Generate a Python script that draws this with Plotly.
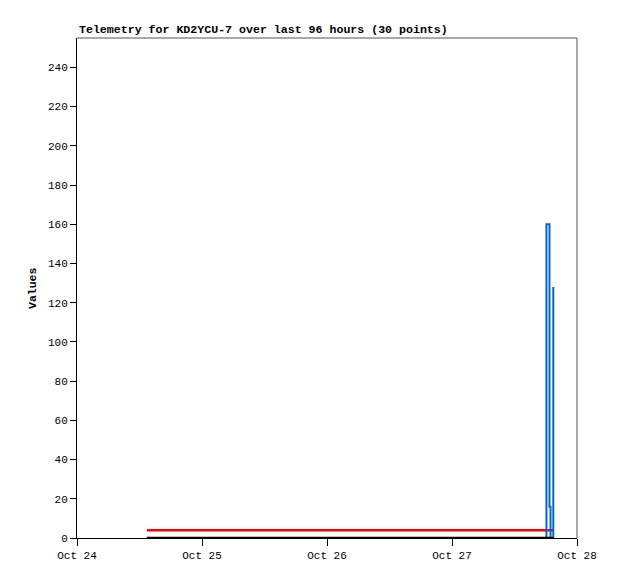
import plotly.graph_objects as go

times = [
    "2023-10-24 13:25", "2023-10-24 16:10", "2023-10-24 19:05", "2023-10-24 22:00",
    "2023-10-25 00:55", "2023-10-25 03:50", "2023-10-25 06:45", "2023-10-25 09:40",
    "2023-10-25 12:35", "2023-10-25 15:30", "2023-10-25 18:25", "2023-10-25 21:20",
    "2023-10-26 00:15", "2023-10-26 03:10", "2023-10-26 06:05", "2023-10-26 09:00",
    "2023-10-26 11:55", "2023-10-26 14:50", "2023-10-26 17:45", "2023-10-26 20:40",
    "2023-10-26 23:35", "2023-10-27 02:30", "2023-10-27 05:25", "2023-10-27 08:20",
    "2023-10-27 11:15", "2023-10-27 14:10", "2023-10-27 18:08", "2023-10-27 18:43",
    "2023-10-27 18:55", "2023-10-27 19:27",
]
red_values = [4] * 30
blue_values = [0] * 26 + [160, 16, 0, 128]
black_values = [0] * 30

y_ticks = [0, 20, 40, 60, 80, 100, 120, 140, 160, 180, 200, 220, 240]
x_ticks = ["2023-10-24", "2023-10-25", "2023-10-26", "2023-10-27", "2023-10-28"]
x_tick_labels = ["Oct 24", "Oct 25", "Oct 26", "Oct 27", "Oct 28"]

FONT = "Liberation Mono"

fig = go.Figure()
fig.add_trace(go.Scatter(x=times, y=red_values, mode="lines", line=dict(color="#ff0000", width=2.5, shape="hv"), showlegend=False))
fig.add_trace(go.Scatter(x=times, y=blue_values, mode="lines", line=dict(color="#0066cc", width=2, shape="hv"), showlegend=False))
fig.add_trace(go.Scatter(x=times, y=black_values, mode="lines", line=dict(color="#000000", width=2.5, shape="hv"), showlegend=False))

fig.update_layout(
    width=610, height=571,
    margin=dict(l=69, r=41, t=30, b=41),
    paper_bgcolor="white", plot_bgcolor="white",
    font=dict(family=FONT, size=11, color="black"),
    xaxis=dict(
        range=["2023-10-24", "2023-10-28"], tickmode="array", tickvals=x_ticks, ticktext=x_tick_labels,
        showgrid=False, zeroline=False, showline=True, linecolor="black", linewidth=1,
        ticks="outside", ticklen=7, tickcolor="black", tickfont=dict(family=FONT, size=11),
    ),
    yaxis=dict(
        range=[0, 255], tickmode="array", tickvals=y_ticks,
        showgrid=False, zeroline=False, showline=True, linecolor="black", linewidth=1,
        ticks="outside", ticklen=6, tickcolor="black", tickfont=dict(family=FONT, size=11),
    ),
    shapes=[
        dict(type="line", xref="paper", yref="paper", x0=0, x1=1, y0=1, y1=1, line=dict(color="#555555", width=1)),
        dict(type="line", xref="paper", yref="paper", x0=1, x1=1, y0=0, y1=1, line=dict(color="#555555", width=1)),
    ],
    annotations=[
        dict(text="<b>Telemetry for KD2YCU-7 over last 96 hours (30 points)</b>", xref="paper", yref="paper",
             x=0, y=1, xanchor="left", yanchor="bottom", yshift=0, showarrow=False,
             font=dict(family=FONT, size=11.6, color="black")),
        dict(text="<b>Values</b>", xref="paper", yref="paper", x=0, y=0.5, xshift=-45,
             xanchor="center", yanchor="middle", textangle=-90, showarrow=False,
             font=dict(family=FONT, size=11.5, color="black")),
    ],
)

fig.write_html("out.html")
